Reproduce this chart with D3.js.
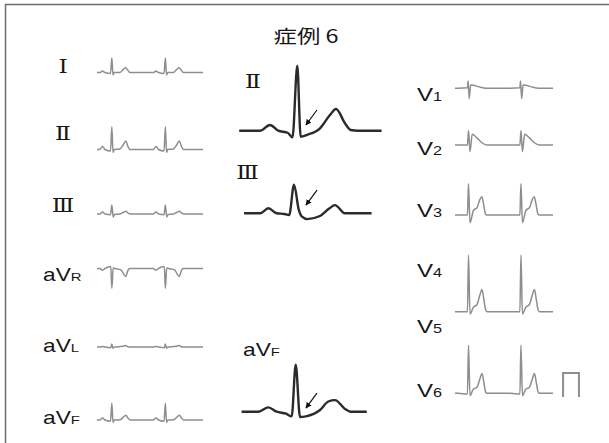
<!DOCTYPE html>
<html>
<head>
<meta charset="utf-8">
<script src="https://cdn.jsdelivr.net/npm/d3@7"></script>
<style>
  body { margin: 0; background: #fff; }
  svg { display: block; }
  .lbl { font-family: "Liberation Sans", Arial, sans-serif; fill: #161616; }
  .rom { font-family: "DejaVu Serif", "Liberation Serif", serif; fill: #161616; }
  .ttl { font-family: "Noto Sans CJK JP", "Noto Sans", sans-serif; fill: #161616; }
</style>
</head>
<body>
<svg id="chart" width="609" height="443"></svg>
<script>
// one beat per lead: [ms from R peak, mV]
const beatI   = [[-230,0],[-175,0.06],[-130,0],[-25,-0.04],[0,0.6],[22,-0.1],[45,0],[150,0],[210,0.12],[260,0.2],[300,0.1],[340,0]];
const beatII  = [[-230,0],[-175,0.13],[-130,0],[-25,-0.06],[0,0.95],[22,-0.12],[45,0],[150,0.02],[210,0.18],[265,0.35],[305,0.12],[345,0]];
const beatIII = [[-230,0],[-175,0.08],[-130,0],[-25,-0.03],[0,0.38],[25,-0.12],[50,-0.02],[150,0],[210,0.06],[265,0.11],[305,0.04],[345,0]];
const beatAVR = [[-230,0],[-175,-0.07],[-130,0],[-20,0.08],[0,-0.83],[25,0.02],[60,0],[170,-0.05],[260,-0.33],[310,-0.05],[345,0]];
const beatAVL = [[-230,0],[-175,0.02],[-130,0],[-20,-0.03],[0,0.12],[20,-0.05],[50,0],[200,0.03],[260,0.06],[320,0]];
const beatAVF = [[-230,0],[-175,0.08],[-130,0],[-25,-0.05],[0,0.7],[22,-0.1],[45,0],[150,0.01],[210,0.1],[265,0.2],[305,0.08],[345,0]];

const beatV1 = [[-200,0],[-20,0.02],[-8,0.3],[14,-0.43],[40,0.14],[90,0.13],[200,0.06],[330,0]];
const beatV2 = [[-200,0],[-20,0],[0,0.6],[28,-0.28],[70,0.45],[150,0.32],[250,0.1],[340,0]];
const beatV3 = [[-200,0],[-20,0],[0,1.3],[28,-0.32],[95,0.2],[160,0.3],[215,0.65],[250,0.76],[285,0.45],[320,0.05],[345,0]];
const beatV4 = [[-200,0],[-20,0],[0,2.36],[28,-0.1],[90,0.18],[160,0.3],[215,0.7],[255,0.93],[290,0.5],[325,0.07],[350,0]];
const beatV6 = [[-200,0],[-20,-0.03],[0,2.0],[28,-0.1],[90,0.17],[160,0.25],[215,0.6],[255,0.83],[290,0.45],[325,0.05],[350,0]];

// magnified beats (middle column)
const bigII  = [[-363,0],[-233,0],[-171,0.084],[-119,0],[-60,-0.03],[-30,-0.098],[0,0.955],[21,-0.088],[62,-0.06],[142,0.035],[204,0.23],[242,0.32],[298,0.11],[334,0.01],[380,0],[527,0]];
const bigIII = [[-312,0],[-212,0],[-160,0.074],[-108,0],[-60,-0.01],[-30,-0.025],[0,0.42],[30,0.05],[50,-0.05],[83,-0.085],[162,-0.04],[220,0.07],[256,0.12],[319,0],[485,0]];
const bigAVF = [[-338,0],[-233,0],[-171,0.064],[-119,0],[-60,-0.03],[-25,-0.068],[0,0.69],[27,-0.078],[64,-0.068],[152,0.025],[204,0.15],[246,0.17],[308,0.04],[344,0],[444,0]];

// arrow tips on magnified beats: [ms, mV]
const arrowTips = [[54,0.084],[75,0.12],[64,0.054]];

// R peak times (ms) within each strip and strip lengths
const leftBeats = [280, 1290];
const rightBeats = [255, 1245];
const leftLen = 2000, rightLen = 1850;
// 1 mV calibration pulse after V6: [ms, mV]
const calib = [[2040,-0.15],[2040,0.85],[2340,0.85],[2340,-0.15]];

const title = "症例 6";

const svg = d3.select("#chart");
const stretch = 1.3; // the printed figure is widened horizontally

// frame (top and left edges only)
svg.append("path")
  .attr("d", "M5.5,443 V4.5 H609")
  .attr("fill", "none")
  .attr("stroke", "#6e6e6e")
  .attr("stroke-width", 1.5);

function label(x, y, main, sub, opts) {
  const t = svg.append("text")
    .attr("class", opts.cls)
    .attr("transform", `translate(${x},${y}) scale(${stretch},1)`)
    .attr("text-anchor", opts.anchor || "start")
    .attr("font-size", opts.size);
  t.append("tspan").text(main);
  if (sub) t.append("tspan").attr("font-size", opts.subSize).text(sub);
}

label(306, 43, title, "", { cls: "ttl", size: 18, anchor: "middle" });

function buildTrace(beat, beats, len) {
  const pts = [[0, 0]];
  beats.forEach(b => beat.forEach(p => pts.push([b + p[0], p[1]])));
  pts.push([len, 0]);
  return pts;
}

const pxPerMv = 24;
const leftX = d3.scaleLinear().domain([0, leftLen]).range([97, 203]);
const rightX = d3.scaleLinear().domain([0, rightLen]).range([455, 553]);

function drawStrip(pts, x, baseY, color, width) {
  const y = d3.scaleLinear().domain([0, 1]).range([baseY, baseY - pxPerMv]);
  const line = d3.line().x(d => x(d[0])).y(d => y(d[1])).curve(d3.curveMonotoneX);
  svg.append("path")
    .datum(pts)
    .attr("d", line)
    .attr("fill", "none")
    .attr("stroke", color)
    .attr("stroke-width", width)
    .attr("stroke-linejoin", "round");
  return y;
}

const grey = "#8e8e8e";

// left column
const leftLeads = [
  { beat: beatI,   base: 72.5,  lab: ["Ⅰ", ""],  ly: 73 },
  { beat: beatII,  base: 149.5, lab: ["Ⅱ", ""],  ly: 140 },
  { beat: beatIII, base: 214,   lab: ["Ⅲ", ""],  ly: 212 },
  { beat: beatAVR, base: 268.5, lab: ["aV", "R"], ly: 281 },
  { beat: beatAVL, base: 347,   lab: ["aV", "L"], ly: 352 },
  { beat: beatAVF, base: 420,   lab: ["aV", "F"], ly: 424 }
];
leftLeads.forEach(l => {
  drawStrip(buildTrace(l.beat, leftBeats, leftLen), leftX, l.base, grey, 1.5);
  if (l.lab[1]) label(43, l.ly, l.lab[0], l.lab[1], { cls: "lbl", size: 17.5, subSize: 11.5 });
  else label(63, l.ly, l.lab[0], "", { cls: "rom", size: 18, anchor: "middle" });
});

// right column
const rightLeads = [
  { beat: beatV1, base: 88.3 },
  { beat: beatV2, base: 145 },
  { beat: beatV3, base: 215 },
  { beat: beatV4, base: 311.7 },
  { beat: beatV6, base: 393.3 }
];
rightLeads.forEach(l => {
  l.y = drawStrip(buildTrace(l.beat, rightBeats, rightLen), rightX, l.base, grey, 1.5);
});
// calibration pulse on V6 strip
svg.append("path")
  .datum(calib)
  .attr("d", d3.line().x(d => rightX(d[0])).y(d => rightLeads[4].y(d[1])))
  .attr("fill", "none")
  .attr("stroke", grey)
  .attr("stroke-width", 2);

const vLabels = ["1", "2", "3", "4", "5", "6"];
const vLabelY = [101, 155, 217, 277, 333, 397];
vLabels.forEach((s, i) => label(417, vLabelY[i], "V", s, { cls: "lbl", size: 18.5, subSize: 12.5 }));

// middle column, magnified
svg.append("defs").append("marker")
  .attr("id", "ah")
  .attr("viewBox", "0 0 10 10")
  .attr("refX", 9).attr("refY", 5)
  .attr("markerWidth", 6).attr("markerHeight", 6)
  .attr("markerUnits", "userSpaceOnUse")
  .attr("orient", "auto")
  .append("path").attr("d", "M0,0 L10,5 L0,10 z").attr("fill", "#111");

const bigLeads = [
  { beat: bigII,  rx: 297.3, base: 130.7, lab: ["Ⅱ", ""],  lx: 253, ly: 88 },
  { beat: bigIII, rx: 294,   base: 213.3, lab: ["Ⅲ", ""],  lx: 247.5, ly: 179 },
  { beat: bigAVF, rx: 295.7, base: 411.7, lab: ["aV", "F"], lx: 243, ly: 356 }
];
bigLeads.forEach((l, i) => {
  const x = d3.scaleLinear().domain([0, 100]).range([l.rx, l.rx + 16]);
  const y = d3.scaleLinear().domain([0, 1]).range([l.base, l.base - 68]);
  const line = d3.line().x(d => x(d[0])).y(d => y(d[1])).curve(d3.curveMonotoneX);
  svg.append("path")
    .datum(l.beat)
    .attr("d", line)
    .attr("fill", "none")
    .attr("stroke", "#2b2b2b")
    .attr("stroke-width", 2.4)
    .attr("stroke-linejoin", "round");
  const tip = arrowTips[i];
  const tx = x(tip[0]), ty = y(tip[1]);
  svg.append("line")
    .attr("x1", tx + 11).attr("y1", ty - 15)
    .attr("x2", tx).attr("y2", ty)
    .attr("stroke", "#111")
    .attr("stroke-width", 1.2)
    .attr("marker-end", "url(#ah)");
  if (l.lab[1]) label(l.lx, l.ly, l.lab[0], l.lab[1], { cls: "lbl", size: 17.5, subSize: 11.5 });
  else label(l.lx, l.ly, l.lab[0], "", { cls: "rom", size: 18, anchor: "middle" });
});
</script>
</body>
</html>
